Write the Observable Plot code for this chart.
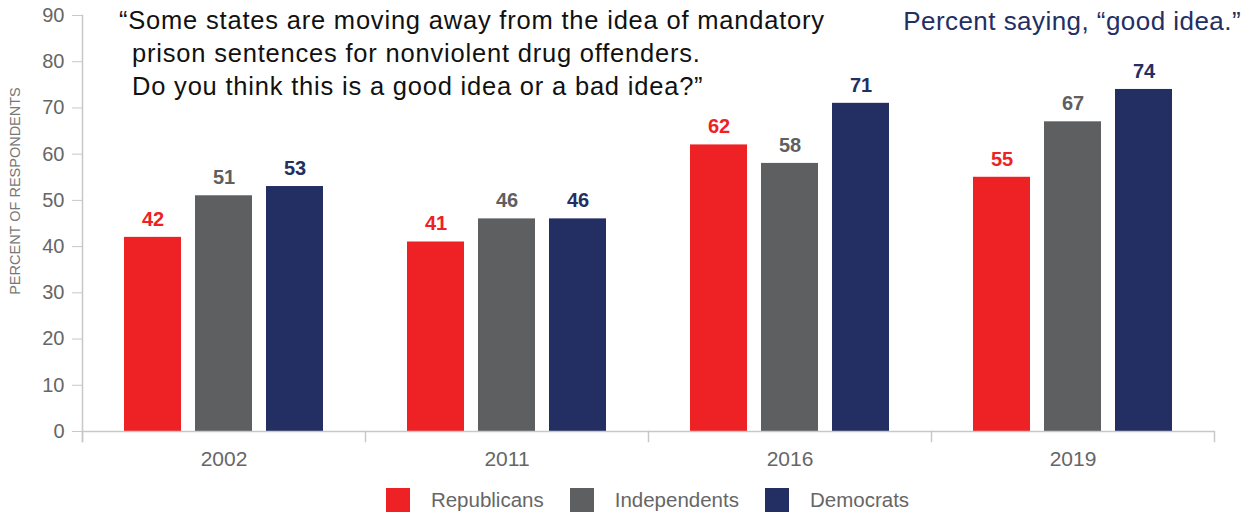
<!DOCTYPE html>
<html>
<head>
<meta charset="utf-8">
<script src="https://cdn.jsdelivr.net/npm/d3@7"></script>
<script src="https://cdn.jsdelivr.net/npm/@observablehq/plot@0.6"></script>
<style>
  html, body { margin: 0; padding: 0; background: #fff; }
  body { font-family: "Liberation Sans", Arial, Helvetica, sans-serif; }
  #wrap { position: relative; width: 1252px; height: 516px; overflow: hidden; }
  #chart { position: absolute; left: 0; top: 0; }
  #question { position: absolute; left: 119px; top: 4px; font-size: 25.5px; line-height: 33px; color: #111; white-space: nowrap; letter-spacing: 0.8px; }
  #question .ind { padding-left: 13px; }
  #note { position: absolute; right: 11px; top: 5px; font-size: 26px; line-height: 32px; color: #232e63; white-space: nowrap; letter-spacing: 0.45px; }
  #ylabel { position: absolute; left: 15px; top: 191px; transform: translate(-50%, -50%) rotate(-90deg); font-size: 14.5px; color: #777; white-space: nowrap; }
  #legend { position: absolute; top: 488px; left: 80px; width: 1135px; display: flex; justify-content: center; align-items: center; }
  #legend .item { display: flex; align-items: center; margin: 0 13px; }
  #legend .sw { width: 24px; height: 24px; margin-right: 21px; }
  #legend .lab { font-size: 20.5px; color: #666; }
</style>
</head>
<body>
<div id="wrap">
  <div id="chart"></div>
  <div id="question"></div>
  <div id="note"></div>
  <div id="ylabel"></div>
  <div id="legend"></div>
</div>
<script>
// ---- data ----
const years = ["2002", "2011", "2016", "2019"];
const parties = ["Republicans", "Independents", "Democrats"];
const republicans = [42, 41, 62, 55];
const independents = [51, 46, 58, 67];
const democrats = [53, 46, 71, 74];
const partyColors = ["#ee2224", "#5e5f61", "#232e63"];
const yTicks = [0, 10, 20, 30, 40, 50, 60, 70, 80, 90];
const questionLines = [
  "\u201CSome states are moving away from the idea of mandatory",
  "prison sentences for nonviolent drug offenders.",
  "Do you think this is a good idea or a bad idea?\u201D"
];
const noteText = "Percent saying, \u201Cgood idea.\u201D";
const yLabel = "PERCENT OF RESPONDENTS";

const series = [republicans, independents, democrats];
const data = years.flatMap((year, i) =>
  parties.map((party, j) => ({ year, party, value: series[j][i] }))
);

const axisGray = "#c8c8c8";
const chart = Plot.plot({
  width: 1252,
  height: 480,
  marginLeft: 80,
  marginRight: 37,
  marginTop: 15,
  marginBottom: 49,
  style: { fontFamily: "'Liberation Sans', Arial, Helvetica, sans-serif", background: "#fff" },
  fx: { domain: years, padding: 0, label: null, axis: null },
  x: { domain: parties, paddingInner: 0.2, paddingOuter: 0.58, align: 0.5, axis: null },
  y: { domain: [0, 90], label: null },
  color: { domain: parties, range: partyColors },
  marks: [
    Plot.axisY({ ticks: yTicks, tickSize: 10, stroke: axisGray, tickFormat: () => "", label: null }),
    Plot.axisY({ ticks: yTicks, tickSize: 0, tickPadding: 18, fill: "#666", fontSize: 20, label: null }),
    Plot.axisFx({ anchor: "bottom", tickSize: 0, tickPadding: 20, fill: "#666", fontSize: 21, label: null }),
    Plot.barY(data, { fx: "year", x: "party", y: "value", fill: "party" }),
    Plot.text(data, {
      fx: "year", x: "party", y: "value", text: d => String(d.value),
      fill: "party", fontWeight: "bold", fontSize: 20, lineAnchor: "middle", dy: -18
    }),
    Plot.ruleY([0], { stroke: axisGray, strokeWidth: 1.5 }),
    Plot.frame({ anchor: "left", facetAnchor: "left", stroke: axisGray, strokeWidth: 1.5, insetBottom: -10 }),
    Plot.frame({ anchor: "left", stroke: axisGray, strokeWidth: 1.5, insetTop: 416, insetBottom: -10 }),
    Plot.frame({ anchor: "right", facetAnchor: "right", stroke: axisGray, strokeWidth: 1.5, insetTop: 416, insetBottom: -10 })
  ]
});
document.getElementById("chart").appendChild(chart);

// ---- texts ----
const q = document.getElementById("question");
questionLines.forEach((line, i) => {
  const div = document.createElement("div");
  div.textContent = line;
  if (i > 0) div.className = "ind";
  q.appendChild(div);
});
document.getElementById("note").textContent = noteText;
document.getElementById("ylabel").textContent = yLabel;

// ---- legend ----
const legend = document.getElementById("legend");
parties.forEach((p, i) => {
  const item = document.createElement("div");
  item.className = "item";
  const sw = document.createElement("div");
  sw.className = "sw";
  sw.style.background = partyColors[i];
  const lab = document.createElement("span");
  lab.className = "lab";
  lab.textContent = p;
  item.appendChild(sw);
  item.appendChild(lab);
  legend.appendChild(item);
});
</script>
</body>
</html>
